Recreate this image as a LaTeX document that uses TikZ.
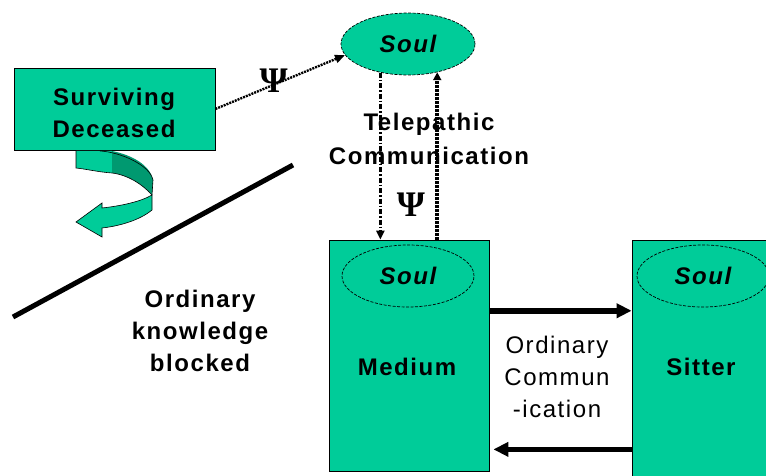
\documentclass[tikz,border=0pt]{standalone}
\usepackage{fontspec}
\setmainfont[LetterSpace=6.5]{Liberation Sans}
\newfontfamily\psifont{Liberation Serif}
\usetikzlibrary{arrows.meta,shapes.geometric,calc}
\definecolor{tealA}{RGB}{0,204,153}
\definecolor{tealB}{RGB}{0,153,112}
\begin{document}
\begin{tikzpicture}[x=1pt,y=-1pt,
  font=\fontsize{24}{32}\selectfont,
  box/.style={draw=black,line width=0.8pt,fill=tealA,rectangle,inner sep=0pt},
  soulnode/.style={ellipse,draw=black,line width=0.7pt,dash pattern=on 3pt off 1.5pt,fill=tealA,
     inner sep=0pt,minimum width=132pt,minimum height=62pt,font=\fontsize{24}{32}\selectfont\bfseries\itshape},
  lbl/.style={inner sep=0pt,anchor=north,align=center},
  psi/.style={inner sep=0pt,font={\psifont\bfseries\fontsize{36}{36}\selectfont}},
  bigarr/.style={line width=6pt,-{Triangle[length=15pt,width=14pt]}},
  downarr/.style={line width=2.6pt,dash pattern=on 5pt off 2pt on 1.5pt off 2pt,-{Triangle[length=9pt,width=8pt]}},
  uparr/.style={line width=3.5pt,dash pattern=on 2.5pt off 1.5pt,-{Triangle[length=8pt,width=8pt]}},
  psiarr/.style={line width=2.4pt,dash pattern=on 2pt off 1pt,-{Triangle[length=10pt,width=8pt]}},
  ribbon/.style={draw=black,line width=0.6pt}
]
\clip (0,0) rectangle (766,476);
\fill[white] (0,0) rectangle (766,476);

% boxes
\node[box,minimum width=201pt,minimum height=82pt] (sd) at (114.5,109) {};
\node[box,minimum width=160pt,minimum height=231pt] (medium) at (409,355.5) {};
\node[box,minimum width=150pt,minimum height=240pt] (sitter) at (707,360) {};

% souls
\node[soulnode,minimum width=134pt] (soulT) at (408,44) {Soul};
\node[soulnode] (soulM) at (408,276) {Soul};
\node[soulnode] (soulS) at (703,276) {Soul};

% texts
\node[lbl,font=\fontsize{24}{32}\selectfont\bfseries] (sdtext) at (114,88) {Surviving\\Deceased};
\node[lbl,font=\fontsize{24}{32}\selectfont\bfseries] (tele) at (429,113) {Telepathic\\[2pt]Communication};
\node[lbl,font=\fontsize{24}{32}\selectfont\bfseries] (ordk) at (200,290) {Ordinary\\knowledge\\blocked};
\node[lbl,font=\fontsize{24}{32}\selectfont\bfseries] (medtext) at (407,358) {Medium};
\node[lbl,font=\fontsize{24}{32}\selectfont\bfseries] (sittext) at (701,358) {Sitter};
\node[lbl] (ordc) at (557,336) {Ordinary\\Commun\\-ication};

% curved ribbon arrow
\fill[tealA] (76,151) -- (112,151) -- (112,173) .. controls (98,172) and (86,169) .. (76,168) -- cycle;
\fill[tealB] (112,151) .. controls (132,155) and (150,165) .. (153,180) -- (152,195)
   .. controls (142,184) and (128,175) .. (112,173) -- cycle;
\draw[ribbon] (76,151) -- (76,168) .. controls (86,169) and (98,172) .. (112,173)
   .. controls (128,175) and (142,184) .. (152,195);
\draw[ribbon] (100,151) .. controls (120,152) and (150,165) .. (153,180) -- (152,195);
\path[ribbon,fill=tealA] (152,195) -- (152,210) .. controls (140,220) and (120,226) .. (102,228)
   -- (102,237) -- (76,222) -- (102,203) -- (102,208) .. controls (120,206) and (140,202) .. (152,195) -- cycle;

% blocking line
\draw[line width=5pt] (13,317) -- (293,165);

% psi connector
\draw[psiarr] (sd.east) -- node[psi,pos=0.45,yshift=4pt] (psi1) {Ψ} (soulT.190);

% telepathic connectors
\draw[downarr] (soulT.-134) -- (soulT.-134 |- medium.north);
\draw[uparr] (soulT.-44 |- medium.north) -- (soulT.-44);
\node[psi] (psi2) at (411,205) {Ψ};

% ordinary communication
\path ($(medium.north east)!0.307!(medium.south east)$) coordinate (a1);
\path ($(medium.north east)!0.905!(medium.south east)$) coordinate (b1);
\draw[bigarr] (a1) -- (a1 -| sitter.west);
\draw[bigarr,line width=5pt,shorten >=4pt] (b1 -| sitter.west) -- (b1);
\end{tikzpicture}
\end{document}
